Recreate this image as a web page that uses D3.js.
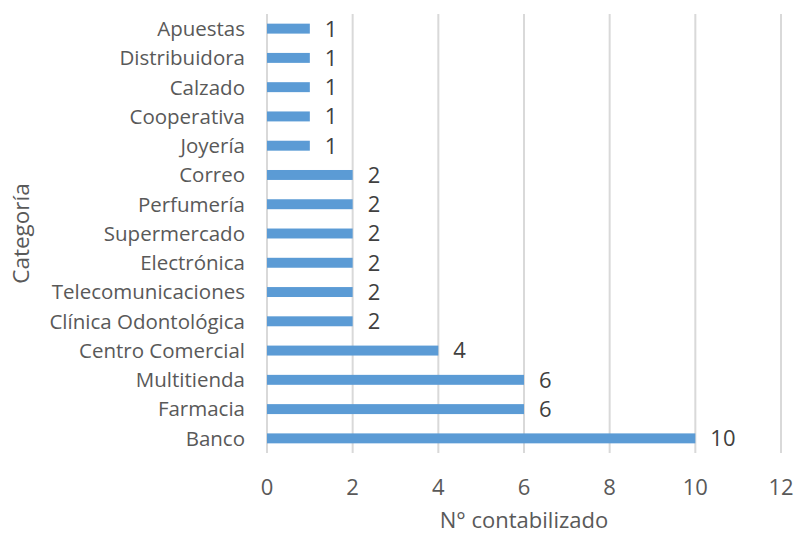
<!DOCTYPE html>
<meta charset="utf-8">
<style>
  body { margin: 0; background: #fff; }
  text { font-family: "Open Sans", sans-serif; fill: #595959; }
  .grid line { stroke: #d9d9d9; stroke-width: 2; }
  .bar { fill: #5b9bd5; }
</style>
<svg width="795" height="533"></svg>
<script src="https://d3js.org/d3.v7.min.js"></script>
<script>
var categories = ["Apuestas", "Distribuidora", "Calzado", "Cooperativa", "Joyería",
  "Correo", "Perfumería", "Supermercado", "Electrónica", "Telecomunicaciones",
  "Clínica Odontológica", "Centro Comercial", "Multitienda", "Farmacia", "Banco"];
var counts = [1, 1, 1, 1, 1, 2, 2, 2, 2, 2, 2, 4, 6, 6, 10];
var xTicks = [0, 2, 4, 6, 8, 10, 12];

var svg = d3.select("svg"),
    plotLeft = 267, plotRight = 781, plotTop = 14, plotBottom = 453;

var x = d3.scaleLinear().domain([0, 12]).range([plotLeft, plotRight]);
var y = d3.scaleBand().domain(categories).range([plotTop, plotBottom]).paddingInner(0.66).paddingOuter(0.33);

// vertical gridlines
svg.append("g").attr("class", "grid")
  .selectAll("line")
  .data(xTicks)
  .enter().append("line")
  .attr("x1", function(d) { return x(d); })
  .attr("x2", function(d) { return x(d); })
  .attr("y1", plotTop)
  .attr("y2", plotBottom);

svg.append("g")
  .selectAll("rect")
  .data(categories)
  .enter().append("rect")
  .attr("class", "bar")
  .attr("x", x(0))
  .attr("y", function(d) { return y(d); })
  .attr("width", function(d, i) { return x(counts[i]) - x(0); })
  .attr("height", y.bandwidth());

// value labels
svg.append("g")
  .selectAll("text")
  .data(categories)
  .enter().append("text")
  .attr("x", function(d, i) { return x(counts[i]) + 15; })
  .attr("y", function(d) { return y(d) + y.bandwidth() / 2; })
  .attr("dy", "0.36em")
  .style("font-size", "22px")
  .style("fill", "#404040")
  .text(function(d, i) { return counts[i]; });

// category labels
svg.append("g")
  .selectAll("text")
  .data(categories)
  .enter().append("text")
  .attr("x", plotLeft - 22)
  .attr("y", function(d) { return y(d) + y.bandwidth() / 2; })
  .attr("dy", "0.36em")
  .attr("text-anchor", "end")
  .style("font-size", "20.5px")
  .text(function(d) { return d; });

// x tick labels
svg.append("g")
  .selectAll("text")
  .data(xTicks)
  .enter().append("text")
  .attr("x", function(d) { return x(d); })
  .attr("y", 487)
  .attr("dy", "0.36em")
  .attr("text-anchor", "middle")
  .style("font-size", "22px")
  .text(function(d) { return d; });

svg.append("text")
  .attr("x", (plotLeft + plotRight) / 2)
  .attr("y", 520)
  .attr("dy", "0.36em")
  .attr("text-anchor", "middle")
  .style("font-size", "22px")
  .text("N° contabilizado");

svg.append("text")
  .attr("transform", "translate(21," + ((plotTop + plotBottom) / 2) + ") rotate(-90)")
  .attr("dy", "0.36em")
  .attr("text-anchor", "middle")
  .style("font-size", "22.5px")
  .text("Categoría");
</script>
